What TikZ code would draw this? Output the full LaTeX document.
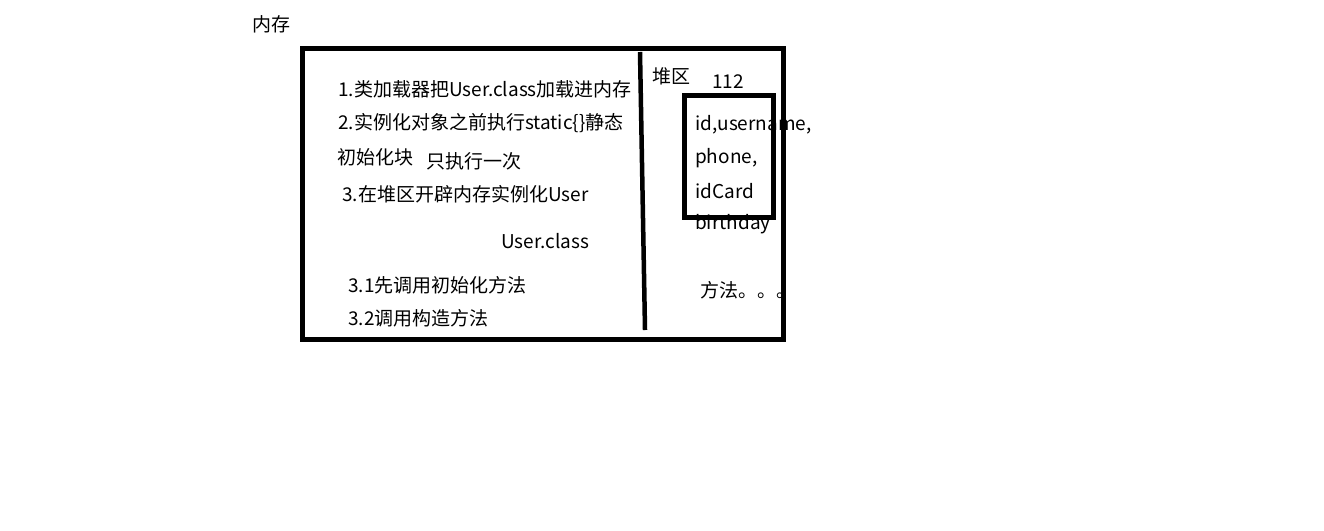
\documentclass[tikz,border=0pt]{standalone}
\usepackage{fontspec}
\setmainfont{Noto Sans CJK SC}
\begin{document}
\begin{tikzpicture}[x=1pt,y=-1pt,
  txt/.style={anchor=west,inner sep=0pt,font=\fontsize{19}{22}\selectfont},
  thick box/.style={draw=black,line width=5pt},
]
\useasboundingbox[fill=white] (0,0) rectangle (1324,530);
% texts
\node[txt] (mem) at (252,24) {内存};
\node[txt] (t1) at (338,89) {1.类加载器把User.class加载进内存};
\node[txt] (t2) at (338,123) {2.实例化对象之前执行static\{\}静态};
\node[txt] (t3) at (337,157) {初始化块};
\node[txt] (t4) at (426,161) {只执行一次};
\node[txt] (t5) at (342,194) {3.在堆区开辟内存实例化User};
\node[txt] (t6) at (501,241) {User.class};
\node[txt] (t7) at (348,285) {3.1先调用初始化方法};
\node[txt] (t8) at (348,318) {3.2调用构造方法};
\node[txt] (heap) at (652,76) {堆区};
\node[txt] (addr) at (712,82) {112};
\node[txt] (f1) at (695,125) {id,username,};
\node[txt] (f2) at (695,158) {phone,};
\node[txt] (f3) at (695,191) {idCard};
\node[txt] (f4) at (695,224) {birthday};
\node[txt] (meth) at (700,290) {方法。。。};
% white mask beyond outer box right edge
\fill[white] (786,275) rectangle (810,305);
% outer box
\draw[thick box] (302,48) rectangle (783,339);
% divider
\coordinate (dtop) at (640,52);
\coordinate (dbot) at (645,330);
\draw[line width=4.5pt] (dtop) -- (dbot);
% object box
\draw[thick box] (684,95) rectangle (773,217);
\end{tikzpicture}
\end{document}
